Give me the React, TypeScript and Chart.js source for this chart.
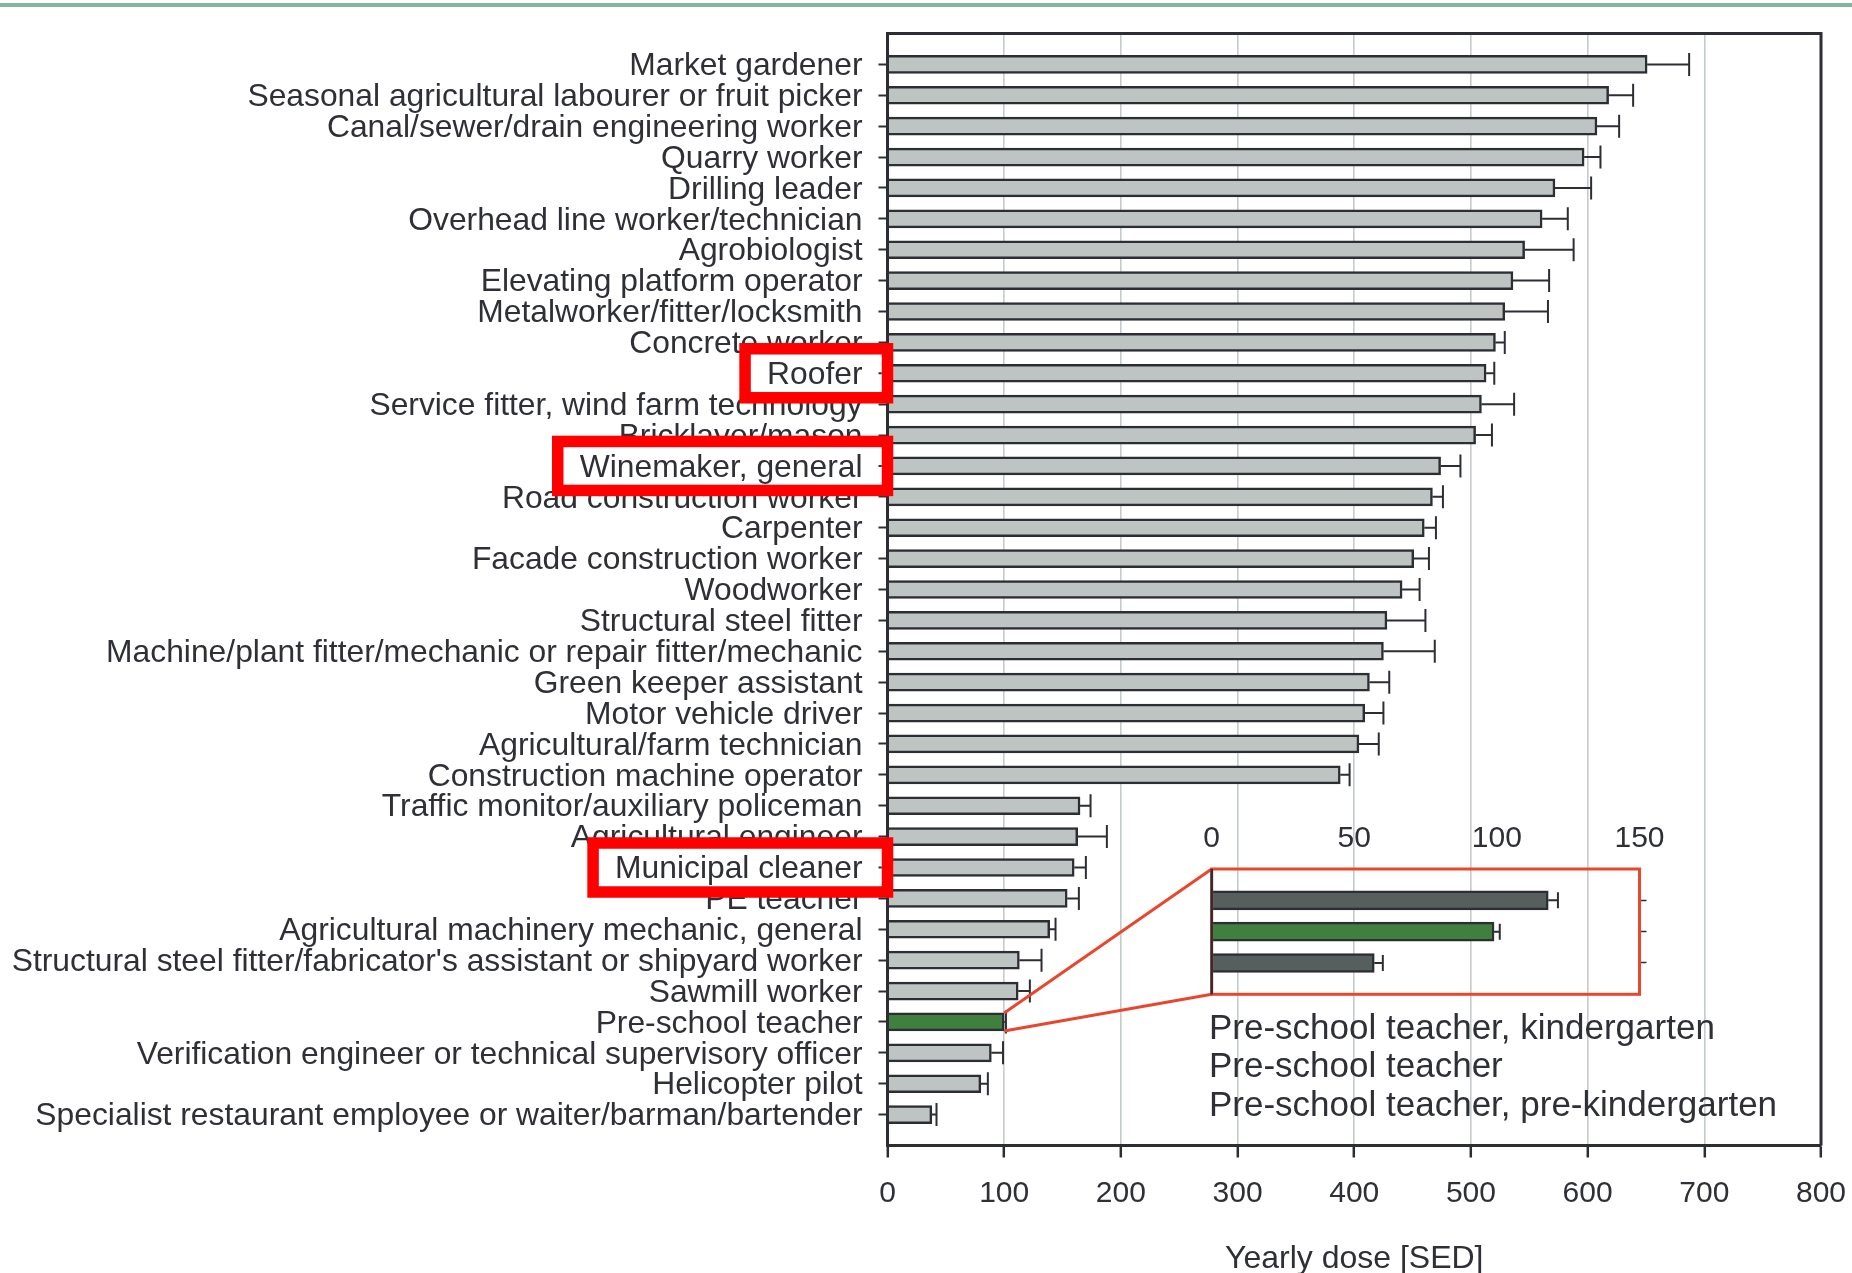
import React, { useEffect, useRef } from 'react';
import { Chart, registerables } from 'chart.js';

Chart.register(...registerables);

// ---------------- data ----------------
const occupations: string[] = [
  'Market gardener',
  'Seasonal agricultural labourer or fruit picker',
  'Canal/sewer/drain engineering worker',
  'Quarry worker',
  'Drilling leader',
  'Overhead line worker/technician',
  'Agrobiologist',
  'Elevating platform operator',
  'Metalworker/fitter/locksmith',
  'Concrete worker',
  'Roofer',
  'Service fitter, wind farm technology',
  'Bricklayer/mason',
  'Winemaker, general',
  'Road construction worker',
  'Carpenter',
  'Facade construction worker',
  'Woodworker',
  'Structural steel fitter',
  'Machine/plant fitter/mechanic or repair fitter/mechanic',
  'Green keeper assistant',
  'Motor vehicle driver',
  'Agricultural/farm technician',
  'Construction machine operator',
  'Traffic monitor/auxiliary policeman',
  'Agricultural engineer',
  'Municipal cleaner',
  'PE teacher',
  'Agricultural machinery mechanic, general',
  "Structural steel fitter/fabricator's assistant or shipyard worker",
  'Sawmill worker',
  'Pre-school teacher',
  'Verification engineer or technical supervisory officer',
  'Helicopter pilot',
  'Specialist restaurant employee or waiter/barman/bartender',
];

const yearlyDose: number[] = [
  651, 618, 608, 597, 572, 561, 546, 536, 529, 521, 513, 509, 504, 474, 467, 460, 451, 441,
  428, 425, 413, 409, 404, 388, 165, 163, 160, 154, 139, 113, 112, 100, 89, 80, 38,
];

const doseError: number[] = [
  36, 21, 19, 14, 31, 22, 42, 31, 37, 8, 7, 28, 14, 17, 9, 10, 13, 15,
  33, 44, 17, 16, 17, 8, 9, 25, 10, 10, 5, 19, 10, 1.5, 10, 6, 4,
];

const highlightedOccupations: string[] = ['Roofer', 'Winemaker, general', 'Municipal cleaner'];
const focusOccupation = 'Pre-school teacher';

const xTickValues: number[] = [0, 100, 200, 300, 400, 500, 600, 700, 800];
const xAxisTitle = 'Yearly dose [SED]';

const insetCategories: string[] = [
  'Pre-school teacher, kindergarten',
  'Pre-school teacher',
  'Pre-school teacher, pre-kindergarten',
];
const insetDose: number[] = [118, 99, 57];
const insetError: number[] = [3.4, 2, 3];
const insetTickValues: number[] = [0, 50, 100, 150];

// ---------------- styles ----------------
const FONT = '"Liberation Sans", Arial, Helvetica, sans-serif';
const TEXT = '#2e3036';
const DARK = '#2c2e34';
const GRID = '#c6cccb';
const BAR_GRAY = '#bec4c2';
const BAR_GREEN = '#40803f';
const BAR_DARK = '#575f5c';
const RED_BOX = '#ff0000';
const RED_LINE = '#e8472e';
const Y_FONT = 31.8;
const X_FONT = 30;

const W = 1852;
const H = 1273;
const PLOT_LEFT = 887.5;
const PLOT_RIGHT = 1821;
const PLOT_TOP = 33.5;
const PLOT_BOTTOM = 1145.5;

// inset placement (page coords)
const INSET_CANVAS = { left: 1150, top: 790, width: 520, height: 230 };
const INSET_AREA = { left: 1211.7, right: 1639.5, top: 869, bottom: 994.3 };

export default function App() {
  const mainRef = useRef<HTMLCanvasElement | null>(null);
  const insetRef = useRef<HTMLCanvasElement | null>(null);

  useEffect(() => {
    if (!mainRef.current || !insetRef.current) return;

    const labels = ['', ...occupations, ''];
    const values = [null, ...yearlyDose, null];
    const errors = [null, ...doseError, null];
    const fills = labels.map((l) => (l === focusOccupation ? BAR_GREEN : BAR_GRAY));

    const framePlugin = {
      id: 'frame',
      afterDraw(chart: any) {
        const { ctx, chartArea } = chart;
        ctx.save();
        ctx.strokeStyle = DARK;
        ctx.lineWidth = 3;
        ctx.beginPath();
        ctx.moveTo(chartArea.left, chartArea.top);
        ctx.lineTo(chartArea.right, chartArea.top);
        ctx.lineTo(chartArea.right, chartArea.bottom);
        ctx.stroke();
        ctx.restore();
      },
    };

    const errorBarPlugin = {
      id: 'errBars',
      afterDatasetsDraw(chart: any) {
        const { ctx } = chart;
        const xs = chart.scales.x;
        const meta = chart.getDatasetMeta(0);
        ctx.save();
        ctx.strokeStyle = DARK;
        ctx.lineWidth = 2;
        meta.data.forEach((bar: any, i: number) => {
          const v = values[i];
          const e = errors[i];
          if (v == null || e == null) return;
          const x0 = xs.getPixelForValue(v);
          const x1 = xs.getPixelForValue(v + e);
          const y = bar.y;
          ctx.beginPath();
          ctx.moveTo(x0, y);
          ctx.lineTo(x1, y);
          ctx.moveTo(x1, y - 11.5);
          ctx.lineTo(x1, y + 11.5);
          ctx.stroke();
        });
        ctx.restore();
      },
    };

    const connectorPlugin = {
      id: 'connector',
      afterDatasetsDraw(chart: any) {
        const { ctx } = chart;
        const idx = labels.indexOf(focusOccupation);
        const y = chart.scales.y.getPixelForTick(idx);
        const x = chart.scales.x.getPixelForValue(values[idx] as number);
        ctx.save();
        ctx.strokeStyle = RED_LINE;
        ctx.lineWidth = 3;
        ctx.beginPath();
        ctx.moveTo(x, y - 9);
        ctx.lineTo(INSET_AREA.left, INSET_AREA.top);
        ctx.moveTo(x, y + 9);
        ctx.lineTo(INSET_AREA.left, INSET_AREA.bottom);
        ctx.stroke();
        ctx.restore();
      },
    };

    const LABEL_SHIFT = 2;

    const highlightPlugin = {
      id: 'highlight',
      afterDraw(chart: any) {
        const { ctx, chartArea } = chart;
        const ys = chart.scales.y;
        ctx.save();
        ctx.font = `${Y_FONT}px ${FONT}`;
        highlightedOccupations.forEach((name) => {
          const idx = labels.indexOf(name);
          if (idx < 0) return;
          const y = ys.getPixelForTick(idx);
          const axisX = chartArea.left;
          const labelRight = axisX - 9 - 16;
          const w = ctx.measureText(name).width;
          const left = labelRight - w - 22;
          const right = axisX;
          const top = y - 24.5;
          const bottom = y + 24.5;
          ctx.fillStyle = '#ffffff';
          ctx.fillRect(left, top, right - left, bottom - top);
          ctx.strokeStyle = RED_BOX;
          ctx.lineWidth = 11.5;
          ctx.strokeRect(left, top, right - left, bottom - top);
          ctx.fillStyle = TEXT;
          ctx.textAlign = 'right';
          ctx.textBaseline = 'middle';
          ctx.fillText(name, labelRight, y + LABEL_SHIFT);
          ctx.strokeStyle = DARK;
          ctx.lineWidth = 2;
          ctx.beginPath();
          ctx.moveTo(axisX - 9, y);
          ctx.lineTo(axisX - 5.75, y);
          ctx.stroke();
        });
        ctx.restore();
      },
    };

    const main = new Chart(mainRef.current, {
      type: 'bar',
      data: {
        labels,
        datasets: [
          {
            data: values as any,
            backgroundColor: fills,
            borderColor: DARK,
            borderWidth: 2.5,
            borderSkipped: 'start',
            barThickness: 18,
          },
        ],
      },
      options: {
        indexAxis: 'y',
        animation: false,
        responsive: false,
        maintainAspectRatio: false,
        layout: { padding: { left: 0, top: PLOT_TOP, right: W - PLOT_RIGHT, bottom: 0 } },
        plugins: { legend: { display: false }, tooltip: { enabled: false } },
        scales: {
          x: {
            type: 'linear',
            position: 'bottom',
            min: xTickValues[0],
            max: xTickValues[xTickValues.length - 1],
            afterBuildTicks: (scale: any) => {
              scale.ticks = xTickValues.map((v) => ({ value: v }));
            },
            afterFit: (scale: any) => {
              scale.height = H - PLOT_BOTTOM;
              scale.paddingLeft = 0;
              scale.paddingRight = 0;
            },
            grid: {
              color: GRID,
              lineWidth: 1.6,
              tickColor: DARK,
              tickLength: 12,
              tickWidth: 2.5,
            },
            border: { color: DARK, width: 3, z: 1 },
            ticks: {
              font: { family: FONT, size: X_FONT },
              color: TEXT,
              padding: 18,
              maxRotation: 0,
            },
            title: {
              display: true,
              text: xAxisTitle,
              font: { family: FONT, size: 32, lineHeight: 1 },
              color: TEXT,
              padding: { top: 0, bottom: -2.5 },
            },
          },
          y: {
            type: 'category',
            offset: false,
            afterFit: (scale: any) => {
              scale.width = PLOT_LEFT;
              scale.paddingTop = 0;
              scale.paddingBottom = 0;
            },
            grid: {
              offset: false,
              drawOnChartArea: false,
              tickLength: 9,
              tickWidth: 2,
              tickColor: (c: any) => (labels[c.index] ? DARK : 'rgba(0,0,0,0)'),
            },
            border: { color: DARK, width: 3, z: 1 },
            ticks: {
              font: { family: FONT, size: Y_FONT },
              color: TEXT,
              padding: 16,
              autoSkip: false,
              labelOffset: LABEL_SHIFT,
            },
          },
        },
      },
      plugins: [framePlugin, errorBarPlugin, connectorPlugin, highlightPlugin],
    });

    // -------- inset chart --------
    const iLabels = ['', ...insetCategories, ''];
    const iValues = [null, ...insetDose, null];
    const iErrors = [null, ...insetError, null];
    const iFills = iLabels.map((l) => (l === focusOccupation ? BAR_GREEN : BAR_DARK));

    const insetFrame = {
      id: 'insetFrame',
      afterDraw(chart: any) {
        const { ctx, chartArea } = chart;
        ctx.save();
        ctx.strokeStyle = RED_LINE;
        ctx.lineWidth = 3;
        ctx.strokeRect(chartArea.left, chartArea.top, chartArea.right - chartArea.left, chartArea.bottom - chartArea.top);
        ctx.strokeStyle = DARK;
        ctx.lineWidth = 2.5;
        ctx.beginPath();
        ctx.moveTo(chartArea.left, chartArea.top);
        ctx.lineTo(chartArea.left, chartArea.bottom);
        ctx.stroke();
        ctx.restore();
      },
      afterDatasetsDraw(chart: any) {
        const { ctx } = chart;
        const xs = chart.scales.x;
        const meta = chart.getDatasetMeta(0);
        ctx.save();
        ctx.strokeStyle = DARK;
        ctx.lineWidth = 2;
        meta.data.forEach((bar: any, i: number) => {
          const v = iValues[i];
          const e = iErrors[i];
          if (v == null || e == null) return;
          const x0 = xs.getPixelForValue(v);
          const x1 = xs.getPixelForValue(v + e);
          const y = bar.y;
          ctx.beginPath();
          ctx.moveTo(x0, y);
          ctx.lineTo(x1, y);
          ctx.moveTo(x1, y - 8);
          ctx.lineTo(x1, y + 8);
          ctx.stroke();
        });
        ctx.restore();
      },
    };

    const padLeft = INSET_AREA.left - INSET_CANVAS.left;
    const padBottom = INSET_CANVAS.top + INSET_CANVAS.height - INSET_AREA.bottom;
    const topAxisH = INSET_AREA.top - INSET_CANVAS.top;
    const rightAxisW = INSET_CANVAS.left + INSET_CANVAS.width - INSET_AREA.right;

    const inset = new Chart(insetRef.current, {
      type: 'bar',
      data: {
        labels: iLabels,
        datasets: [
          {
            data: iValues as any,
            backgroundColor: iFills,
            borderColor: DARK,
            borderWidth: 2.5,
            borderSkipped: 'start',
            barThickness: 19,
          },
        ],
      },
      options: {
        indexAxis: 'y',
        animation: false,
        responsive: false,
        maintainAspectRatio: false,
        layout: { padding: { left: padLeft, top: 0, right: 0, bottom: padBottom } },
        plugins: { legend: { display: false }, tooltip: { enabled: false } },
        scales: {
          x: {
            type: 'linear',
            position: 'top',
            min: insetTickValues[0],
            max: insetTickValues[insetTickValues.length - 1],
            afterBuildTicks: (scale: any) => {
              scale.ticks = insetTickValues.map((v) => ({ value: v }));
            },
            afterFit: (scale: any) => {
              scale.height = topAxisH;
              scale.paddingLeft = 0;
              scale.paddingRight = 0;
            },
            grid: { display: false, drawTicks: false },
            border: { display: false },
            ticks: { font: { family: FONT, size: X_FONT }, color: TEXT, padding: 12.5, maxRotation: 0 },
          },
          y: {
            type: 'category',
            position: 'right',
            offset: false,
            afterFit: (scale: any) => {
              scale.width = rightAxisW;
              scale.paddingTop = 0;
              scale.paddingBottom = 0;
            },
            grid: {
              offset: false,
              drawOnChartArea: false,
              tickLength: 7,
              tickWidth: 1.5,
              tickColor: (c: any) => (iLabels[c.index] ? DARK : 'rgba(0,0,0,0)'),
            },
            border: { display: false },
            ticks: { color: 'rgba(0,0,0,0)', font: { family: FONT, size: 10 }, autoSkip: false },
          },
        },
      },
      plugins: [insetFrame],
    });

    return () => {
      main.destroy();
      inset.destroy();
    };
  }, []);

  return (
    <div style={{ position: 'absolute', left: 0, top: 0, width: W, height: H, background: '#ffffff', overflow: 'hidden' }}>
      <div style={{ position: 'absolute', left: 0, top: 3, width: W, height: 4, background: '#80b79c' }} />
      <canvas ref={mainRef} width={W} height={H} style={{ position: 'absolute', left: 0, top: 0, width: W, height: H }} />
      <canvas
        ref={insetRef}
        width={INSET_CANVAS.width}
        height={INSET_CANVAS.height}
        style={{
          position: 'absolute',
          left: INSET_CANVAS.left,
          top: INSET_CANVAS.top,
          width: INSET_CANVAS.width,
          height: INSET_CANVAS.height,
        }}
      />
      <div
        style={{
          position: 'absolute',
          left: 1209,
          top: 1007.5,
          fontFamily: FONT,
          fontSize: 35,
          lineHeight: '38.5px',
          color: TEXT,
          whiteSpace: 'pre',
        }}
      >
        {insetCategories.map((c) => (
          <div key={c}>{c}</div>
        ))}
      </div>
    </div>
  );
}
